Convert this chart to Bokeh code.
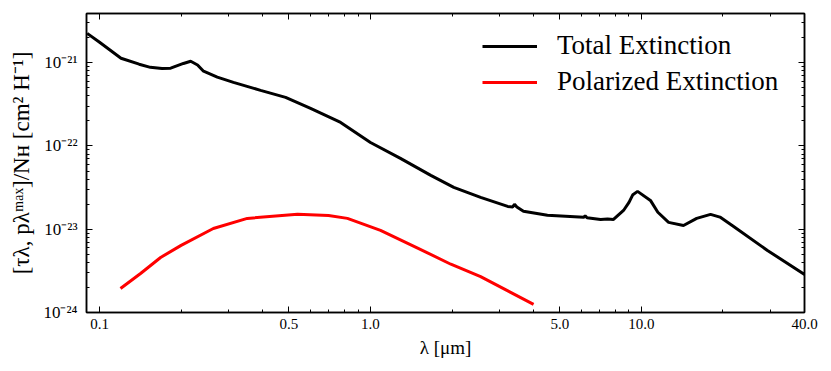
from bokeh.plotting import figure
from bokeh.models import LogAxis, FixedTicker, CustomJSTickFormatter, Legend
from bokeh.embed import file_html
from bokeh.resources import INLINE

# ---- data ----
total_wav = [0.09, 0.10, 0.12, 0.14, 0.154, 0.17, 0.183, 0.204, 0.217, 0.23, 0.242, 0.272,
             0.312, 0.393, 0.486, 0.601, 0.776, 1.0, 1.29, 1.67, 2.03, 2.55, 3.21, 3.35, 3.4,
             3.47, 3.67, 4.5, 6.12, 6.2, 6.3, 7.07, 7.5, 7.89, 8.59, 9.0, 9.3, 9.68, 10.8,
             11.5, 12.6, 14.3, 16.0, 18.0, 19.5, 21.9, 29.2, 40.0]
total_ext = [2.25e-21, 1.76e-21, 1.13e-21, 9.6e-22, 8.8e-22, 8.5e-22, 8.6e-22, 9.8e-22, 1.04e-21,
             9.4e-22, 7.9e-22, 6.7e-22, 5.8e-22, 4.66e-22, 3.84e-22, 2.83e-22, 1.92e-22, 1.10e-22,
             7.1e-23, 4.43e-23, 3.18e-23, 2.41e-23, 1.88e-23, 1.85e-23, 2.0e-23, 1.85e-23, 1.64e-23,
             1.47e-23, 1.39e-23, 1.45e-23, 1.37e-23, 1.31e-23, 1.33e-23, 1.31e-23, 1.68e-23,
             2.1e-23, 2.6e-23, 2.85e-23, 2.22e-23, 1.6e-23, 1.21e-23, 1.11e-23, 1.35e-23,
             1.51e-23, 1.4e-23, 1.08e-23, 5.56e-24, 2.86e-24]

pol_wav = [0.1195, 0.1417, 0.168, 0.2, 0.263, 0.351, 0.538, 0.7, 0.822, 1.089, 1.5, 1.98, 2.55, 4.0]
pol_ext = [1.94e-24, 2.94e-24, 4.58e-24, 6.4e-24, 1.02e-23, 1.35e-23, 1.51e-23, 1.46e-23, 1.35e-23,
           9.7e-24, 5.9e-24, 3.8e-24, 2.7e-24, 1.25e-24]

xtick_vals = [0.1, 0.5, 1.0, 5.0, 10.0, 40.0]
xtick_labels = ["0.1", "0.5", "1.0", "5.0", "10.0", "40.0"]
x_minor = [0.1, 0.2, 0.3, 0.4, 0.5, 0.6, 0.7, 0.8, 0.9, 1, 2, 3, 4, 5, 6, 7, 8, 9, 10, 20, 30, 40]

ytick_vals = [1e-24, 1e-23, 1e-22, 1e-21]
ytick_labels = ["10\u207b\u00b2\u2074", "10\u207b\u00b2\u00b3", "10\u207b\u00b2\u00b2", "10\u207b\u00b2\u00b9"]
y_minor = [k * 10.0 ** e for e in range(-24, -20) for k in range(1, 10)]

FONT = "Liberation Serif"

p = figure(width=831, height=371, x_axis_type="log", y_axis_type="log",
           x_range=(0.0895, 40), y_range=(1e-24, 3.9e-21),
           output_backend="svg", toolbar_location=None,
           min_border_left=86, min_border_right=27, min_border_top=13, min_border_bottom=59)
p.grid.visible = False
p.outline_line_color = "black"
p.outline_line_width = 1.5

r1 = p.line(total_wav, total_ext, line_color="black", line_width=3)
r2 = p.line(pol_wav, pol_ext, line_color="red", line_width=3)

xt = FixedTicker(ticks=xtick_vals, minor_ticks=x_minor)
yt = FixedTicker(ticks=ytick_vals, minor_ticks=y_minor)
pick = """
let best = 0, d = 1e9;
for (let i = 0; i < v.length; i++) { const dd = Math.abs(Math.log10(v[i]) - Math.log10(tick)); if (dd < d) { d = dd; best = i; } }
return l[best];"""
xfmt = CustomJSTickFormatter(args=dict(v=xtick_vals, l=xtick_labels), code=pick)
yfmt = CustomJSTickFormatter(args=dict(v=ytick_vals, l=ytick_labels), code=pick)

def style(ax):
    ax.major_tick_in = 6
    ax.major_tick_out = 0
    ax.minor_tick_in = 3
    ax.minor_tick_out = 0
    ax.axis_line_color = "black"
    ax.axis_line_width = 1.5
    ax.major_tick_line_color = "black"
    ax.minor_tick_line_color = "black"
    ax.major_tick_line_width = 1
    ax.minor_tick_line_width = 1
    ax.major_label_text_font = FONT
    ax.major_label_text_color = "black"
    ax.axis_label_text_font = FONT
    ax.axis_label_text_color = "black"
    ax.axis_label_text_font_style = "normal"

xa = p.xaxis[0]
xa.ticker = xt
xa.formatter = xfmt
style(xa)
xa.major_label_text_font_size = "15px"
xa.major_label_standoff = 6
xa.axis_label = "\u03bb [\u03bcm]"
xa.axis_label_text_font_size = "19px"
xa.axis_label_standoff = 5

ya = p.yaxis[0]
ya.ticker = yt
ya.formatter = yfmt
style(ya)
ya.major_label_text_font_size = "17px"
ya.major_label_standoff = 9
ya.axis_label = "[\u03c4\u03bb, p\u03bb\u1d50\u1d43\u02e3]/N\u029c [cm\u00b2 H\u207b\u00b9]"
ya.axis_label_text_font_size = "23px"
ya.axis_label_standoff = 6

blank = CustomJSTickFormatter(code="return '';")
top = LogAxis(ticker=xt, formatter=blank, major_label_standoff=0)
style(top)
p.add_layout(top, "above")
right = LogAxis(ticker=yt, formatter=blank, major_label_standoff=0)
style(right)
p.add_layout(right, "right")

legend = Legend(items=[("Total Extinction", [r1]), ("Polarized Extinction", [r2])],
                location=(391, 210))
legend.label_text_font = FONT
legend.label_text_color = "black"
legend.label_text_font_size = "27px"
legend.glyph_width = 55
legend.glyph_height = 30
legend.label_height = 30
legend.label_standoff = 20
legend.spacing = 5
legend.padding = 5
legend.margin = 0
legend.border_line_alpha = 0
legend.background_fill_alpha = 0
p.add_layout(legend, "center")

open("out.html", "w").write(file_html(p, INLINE))
